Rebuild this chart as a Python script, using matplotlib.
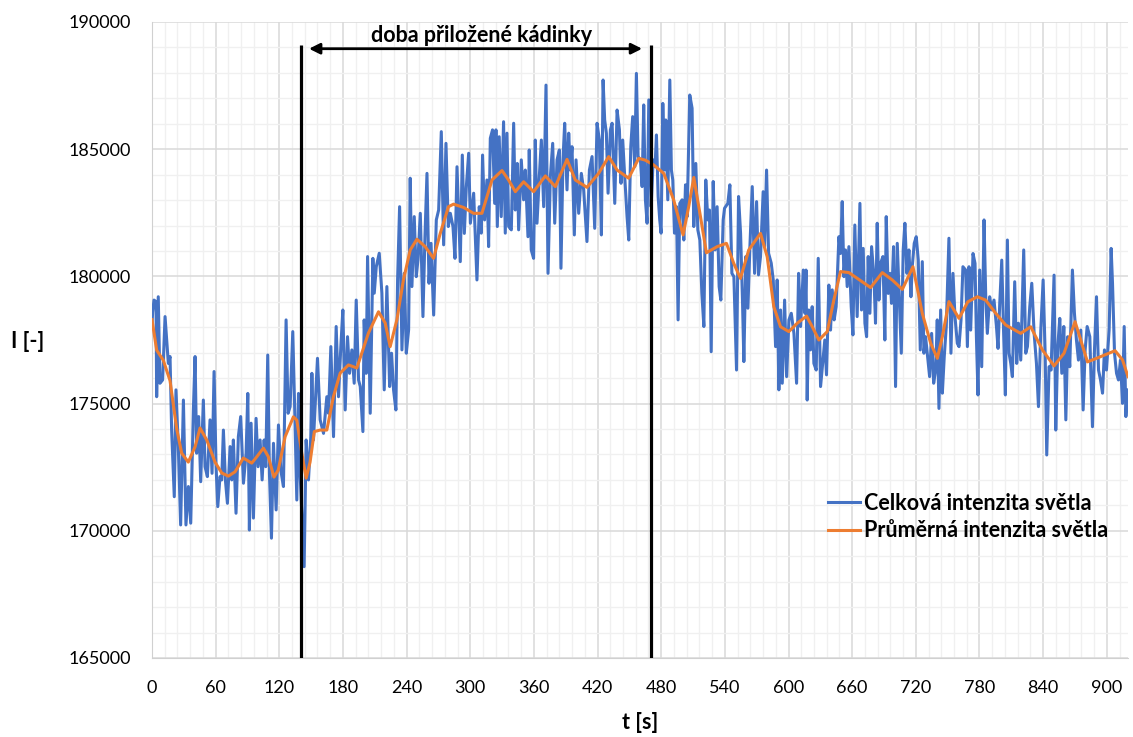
import numpy as np
import matplotlib.pyplot as plt

plt.rcParams['font.family'] = ['Lato', 'DejaVu Sans']

# time [s] and total light intensity (blue)
blue_t = [
    0, 0.6, 1.9, 3.8, 4.4, 5.9, 7.5, 10, 12.3, 15.4,
    17, 18.5, 21, 22.6, 24.8, 27, 29.6, 32, 34.3, 36.5,
    39, 40.6, 42.1, 44, 45.9, 48.4, 50, 52.2, 54.7, 56.6,
    58.5, 60.4, 62, 64.1, 65.7, 67.3, 69.2, 71.1, 73.6, 75.2,
    76.7, 79.2, 81.4, 83.6, 86.2, 88.7, 90.3, 91.8, 93.4, 95.6,
    98.1, 100, 101.9, 103.8, 105.7, 107.2, 109.1, 110.7, 112.6, 114.5,
    117, 119.2, 121.4, 123.9, 126.4, 128.3, 130.2, 132.7, 134.6, 136.5,
    138.1, 139.6, 143.4, 145.3, 147.5, 149.7, 150.7, 152.2, 156, 158.5,
    161.7, 164.8, 166.4, 168.6, 171.1, 173.6, 175.8, 178, 179.9, 182.1,
    184.3, 186.2, 188.4, 190.6, 192.5, 194.7, 196.3, 198.8, 200, 201.9,
    203.2, 205.7, 208.2, 209.5, 211.4, 214.2, 216.7, 218.9, 221.4, 224,
    225.8, 227.7, 229.9, 231.5, 233.4, 235.6, 237.8, 239.7, 241.9, 243.4,
    245, 247.2, 249.1, 250.7, 252.9, 255.4, 257.3, 259.2, 261.1, 263,
    265.5, 268, 270.2, 272.7, 274.9, 277.1, 279.3, 281.2, 283.7, 285.6,
    287.5, 289.4, 290.6, 292.5, 294.4, 296.3, 298.5, 300.1, 303.2, 306.3,
    308.5, 310.4, 311.6, 313.5, 315.7, 317.3, 318.9, 321, 323, 324.2,
    325.5, 327.3, 329.2, 331.4, 333, 334.6, 336.2, 338.7, 340.9, 342.4,
    344.3, 345.6, 348.1, 350.3, 351.9, 354.4, 355.6, 357.5, 359.7, 361.3,
    362.9, 365.1, 367, 369.2, 371.4, 373.3, 375.5, 377.7, 379.6, 381.8,
    384, 385.5, 387.4, 389, 391.2, 392.8, 394.3, 395.9, 398.1, 399.7,
    402.2, 404.7, 406.9, 410, 412.3, 414.8, 417.3, 419.5, 421.7, 423.6,
    425.2, 426.7, 428.3, 429.9, 432.1, 433.7, 436.2, 438.4, 440.6, 442.1,
    443.7, 445.6, 447.8, 449.4, 451.3, 453.1, 455, 456.6, 458.2, 460.4,
    462, 463.5, 465.1, 466.7, 468.3, 470.5, 472.4, 474.2, 475.5, 477.1,
    478.6, 479.9, 481.5, 483, 484.3, 486.2, 488.1, 489.6, 490.9, 492.5,
    494.4, 495.9, 497.5, 499.7, 501.3, 502.9, 504.4, 506.9, 509.1, 510.7,
    512.6, 514.5, 516.4, 518.3, 520.2, 522, 523.9, 525.5, 527.1, 529,
    530.8, 532.7, 534.6, 536.2, 538.4, 539.7, 542.8, 544.7, 546.6, 548.5,
    551, 552.9, 554.8, 556.6, 557.9, 559.8, 561.7, 563.6, 565.8, 568,
    569.9, 571.7, 573.6, 576.1, 577.4, 579.3, 581.2, 583.7, 585.6, 587.8,
    589.3, 590.9, 592.5, 594.1, 596.3, 598.2, 600.4, 602.6, 605.1, 607.6,
    609.5, 611.4, 613.9, 615.5, 616.5, 617.6, 619.1, 620.7, 622.3, 623.9,
    626.1, 628, 630.2, 634.2, 635.8, 638, 639.6, 641.2, 643, 644.9,
    647.5, 649, 650.6, 652.2, 653.7, 655.3, 656.9, 659.1, 660.7, 662.5,
    664.7, 667.3, 668.8, 670.4, 672, 673.6, 675.1, 676.7, 678.3, 680.5,
    682, 683.6, 685.2, 686.8, 689, 690.8, 692.1, 694, 695.6, 697.1,
    699, 700.9, 702.5, 704.1, 706.3, 708.1, 709.7, 711.6, 713.5, 715.4,
    716.6, 718.5, 720.4, 722.3, 724.2, 726.1, 727.6, 729.2, 731.1, 733,
    734.9, 736.8, 738.7, 740.2, 741.8, 743.4, 745, 746.8, 748.7, 751.2,
    753.1, 755, 756.9, 759.1, 760.7, 762.6, 764.4, 767, 768.6, 770.1,
    771.7, 773.9, 775.8, 777.1, 778.6, 780.2, 782.1, 784.3, 785.9, 787.4,
    789.6, 791.5, 793.7, 796, 797.5, 799.1, 801, 802.5, 804.4, 806.3,
    807.9, 809.5, 811, 813.2, 815.1, 816.7, 818.9, 821.7, 823.6, 825.2,
    827.4, 829.3, 831.5, 833.7, 835.6, 837.8, 840, 841.9, 843.4, 845.6,
    847.5, 850.3, 851.9, 853.8, 855.7, 857.6, 859.5, 861.4, 863.2, 865.1,
    867.6, 869.5, 871.4, 873.3, 875.5, 877.7, 879.6, 881.5, 884, 886.5,
    888.4, 890.3, 892.2, 894.1, 896, 897.8, 899.7, 902.2, 904.1, 905.4,
    907.3, 909.2, 911, 912.9, 914.8, 916.4, 918, 919.5,
]
blue_v = [
    178100, 178600, 179070, 179010, 175270, 179200, 175800, 175930, 178420, 176580,
    176850, 173960, 171340, 175540, 173310, 170230, 175140, 170230, 171740, 170300,
    174750, 176850, 173050, 174490, 171930, 175140, 172520, 172130, 174360, 172260,
    176260, 172520, 170950, 172130, 172000, 173960, 171990, 171080, 173310, 172000,
    173570, 170690, 173700, 174490, 171870, 173050, 175400, 170030, 174230, 170500,
    174420, 172520, 173570, 172000, 173570, 172520, 176910, 172260, 169710, 173440,
    170820, 174160, 172390, 171740, 178290, 174620, 174880, 177830, 174620, 171210,
    175400, 172260, 168590, 173570, 172000, 173700, 176190, 173570, 176780, 174360,
    173830, 175270, 174620, 177240, 173700, 178030, 175270, 177240, 178680, 174750,
    177630, 176190, 177110, 175800, 179070, 175930, 175670, 173900, 178290, 176190,
    180780, 174620, 180710, 179340, 180380, 180910, 179340, 175540, 179600, 175670,
    176980, 175540, 174750, 179860, 182740, 177110, 180120, 176980, 177900, 183860,
    179600, 182350, 179990, 180650, 182480, 178420, 181560, 184050, 179730, 181300,
    178480, 182220, 182610, 185690, 181240, 185230, 181960, 182480, 181960, 180710,
    184310, 182090, 180580, 184770, 181690, 183530, 184840, 182090, 183270, 179860,
    182740, 181700, 184770, 182220, 183790, 181170, 185430, 185760, 182870, 185760,
    181960, 185490, 182350, 186080, 181700, 185630, 181960, 181830, 186020, 182610,
    184440, 181830, 184580, 183010, 184180, 181560, 184970, 181040, 180710, 185360,
    182090, 183920, 185360, 182740, 187520, 180120, 183920, 185230, 182090, 184580,
    184970, 180320, 184580, 186020, 183400, 185630, 184180, 185100, 181630, 184580,
    182480, 184050, 183400, 181370, 184180, 184710, 181890, 186020, 185360, 181630,
    187720, 186150, 185630, 183270, 185760, 186020, 182870, 186540, 185760, 183660,
    185360, 183920, 182350, 181430, 185100, 186280, 184320, 187980, 184710, 184580,
    183530, 186740, 183010, 182090, 186940, 182740, 184580, 184310, 185560, 183140,
    182220, 181700, 186800, 184180, 186150, 183010, 187720, 184180, 183790, 181700,
    182740, 178290, 182870, 183010, 181430, 183600, 182350, 187130, 186610, 181960,
    184440, 181830, 181430, 179340, 178030, 183790, 182220, 182610, 177040, 183730,
    181040, 182740, 179600, 179070, 182220, 182680, 182870, 183600, 180120, 179990,
    176320, 183140, 181700, 179070, 176650, 180780, 178750, 181170, 183530, 180120,
    182940, 180060, 180780, 183330, 181170, 184180, 180910, 180520, 179860, 177240,
    179860, 175540, 178680, 175800, 179070, 176060, 178290, 178550, 177760, 175800,
    180120, 178030, 180250, 178550, 180250, 175140, 178680, 177110, 178810, 176580,
    176320, 180710, 175670, 177500, 176130, 179660, 177890, 179470, 178290, 178810,
    181560, 180900, 182940, 179990, 181040, 179600, 181170, 178810, 177700, 182020,
    178420, 182870, 178680, 181100, 178160, 177630, 180780, 178550, 181170, 179990,
    178160, 182090, 179070, 180520, 180780, 177500, 182350, 179330, 180120, 178940,
    181170, 175670, 181300, 179470, 176980, 181040, 182090, 180120, 181040, 179200,
    180380, 181300, 181560, 180640, 177110, 180580, 176980, 177630, 176850, 176060,
    177760, 175800, 176320, 178290, 174810, 178680, 175410, 176850, 178030, 181500,
    176980, 180120, 178420, 177370, 177240, 178290, 180380, 180250, 177240, 180380,
    177890, 180900, 180510, 177630, 175340, 180250, 176450, 182220, 179200, 177760,
    179200, 178680, 179070, 178030, 177170, 178940, 180640, 178160, 175340, 181430,
    176980, 176580, 176060, 179790, 176580, 178160, 176710, 181040, 176980, 177240,
    178810, 179730, 177760, 176580, 174880, 177890, 179860, 176980, 172980, 176450,
    176320, 180050, 173960, 177240, 178350, 176190, 178030, 174360, 177630, 176450,
    180250, 178550, 177500, 176710, 177890, 174750, 177110, 178030, 177630, 174090,
    177110, 179200, 176320, 175930, 175410, 177110, 176320, 177890, 181100, 179730,
    176980, 176190, 175930, 176710, 175010, 178030, 174490, 175540,
]

# averaged intensity (orange)
orange_t = [
    0, 4.4, 10.7, 17, 23.3, 28, 34.2, 40.6, 45.3, 51.6,
    59.4, 65.8, 72, 78.3, 86.1, 94, 98.8, 105, 109.7, 115,
    119, 125.5, 133.3, 136.5, 141.2, 145.3, 149, 153, 158.5, 164.8,
    171, 177.4, 185.2, 193.1, 204, 213.5, 219.8, 224.5, 230.8, 237,
    243.4, 249.7, 257.5, 265.4, 271.7, 279.5, 284.2, 293.7, 303.1, 311,
    320.5, 329.9, 336.1, 342.5, 350.3, 359.7, 370.8, 380.2, 391.2, 399,
    410, 421, 430.5, 438.4, 449.3, 458.8, 465, 472.9, 482.4, 491.8,
    500.6, 505.9, 510.7, 517, 522.6, 532.7, 541.5, 548.4, 554.7, 562.5,
    573.6, 579.9, 586.1, 592.5, 600.3, 608.2, 617, 622.4, 628.6, 636.5,
    642.7, 649, 656.9, 666.3, 677.4, 688.4, 697.8, 707.3, 717.3, 726.1,
    734, 740.3, 745, 751.2, 760.7, 769, 778, 785.8, 795.3, 804.7,
    818.9, 828.3, 839.3, 850.3, 859.7, 870.1, 881.8, 892.7, 907.8, 914.8, 920,
]
orange_v = [
    178300, 177100, 176700, 175900, 174000, 173050, 172700, 173300, 174040, 173570,
    172700, 172270, 172150, 172320, 172860, 172660, 172910, 173250, 172910, 172110,
    172390, 173700, 174480, 174350, 173050, 172070, 172700, 173900, 173960, 173960,
    175270, 176200, 176520, 176400, 177770, 178610, 178170, 177240, 178290, 179860,
    181040, 181460, 181170, 180710, 181690, 182740, 182840, 182710, 182480, 182480,
    183790, 184160, 183790, 183330, 183720, 183330, 183950, 183530, 184600, 183790,
    183500, 184050, 184710, 184180, 183860, 184640, 184570, 184380, 184050, 183000,
    181630, 182740, 183890, 182350, 180930, 181170, 181300, 180510, 179920, 181040,
    181690, 180770, 178810, 178020, 177830, 178160, 178440, 178020, 177500, 177830,
    179070, 180190, 180150, 179880, 179560, 180150, 179860, 179490, 180380, 178550,
    177370, 176780, 177630, 179010, 178350, 179000, 179200, 179070, 178550, 178090,
    177760, 178020, 177110, 176480, 176980, 178220, 176640, 176820, 177080, 176720, 176060,
]
assert len(blue_t) == len(blue_v) and len(orange_t) == len(orange_v)

# beaker on / off times and annotation
beaker_times = [140, 470]
beaker_top = 189100
arrow_span = (148, 462)
arrow_y = 188950
label_text = 'doba přiložené kádinky'

fig = plt.figure(figsize=(11.33, 7.37), dpi=100)
ax = fig.add_axes([152 / 1133, 1 - 658 / 737, 976 / 1133, 636 / 737])

ax.plot(blue_t, blue_v, color='#4472C4', lw=2.2, label='Celková intenzita světla',
        solid_joinstyle='round', zorder=3)
ax.plot(orange_t, orange_v, color='#ED7D31', lw=2.2, label='Průměrná intenzita světla',
        solid_joinstyle='round', zorder=4)

ax.vlines(beaker_times, 165000, beaker_top, color='black', lw=2.3, zorder=5)
ax.annotate('', xy=(arrow_span[0], arrow_y), xytext=(arrow_span[1], arrow_y),
            arrowprops=dict(arrowstyle='<|-|>', color='black', lw=2,
                            shrinkA=0, shrinkB=0, mutation_scale=16), zorder=5)
ax.text(311, 189480, label_text, ha='center', va='center',
        fontsize=15.5, fontweight='bold')

ax.set_xlim(0, 920)
ax.set_ylim(165000, 190000)
ax.set_xticks(np.arange(0, 901, 60))
ax.set_xticks(np.arange(0, 921, 12), minor=True)
ax.set_yticks(np.arange(165000, 190001, 5000))
ax.set_yticks(np.arange(165000, 190001, 1000), minor=True)
ax.grid(which='major', color='#D9D9D9', lw=1.1)
ax.grid(which='minor', color='#F0F0F0', lw=1.0)
ax.set_axisbelow(True)
ax.tick_params(which='both', length=0, labelsize=13)
ax.tick_params(axis='x', pad=16)
ax.tick_params(axis='y', pad=15)

for s in ['top', 'right']:
    ax.spines[s].set_visible(False)
for s in ['left', 'bottom']:
    ax.spines[s].set_color('#D0D0D0')

ax.set_xlabel('t [s]', fontsize=15.5, fontweight='bold')
ax.xaxis.set_label_coords(0.5, -0.085)
ax.set_ylabel('I [-]', fontsize=15.5, fontweight='bold', rotation=0, va='center')
ax.yaxis.set_label_coords(-0.127, 0.497)

leg = ax.legend(loc='center right', bbox_to_anchor=(1.0, 0.222), frameon=False,
                handlelength=1.5, handletextpad=0.2, labelspacing=0.3,
                prop={'size': 15.5, 'weight': 'bold'})

fig.savefig('out.png', dpi=100)
